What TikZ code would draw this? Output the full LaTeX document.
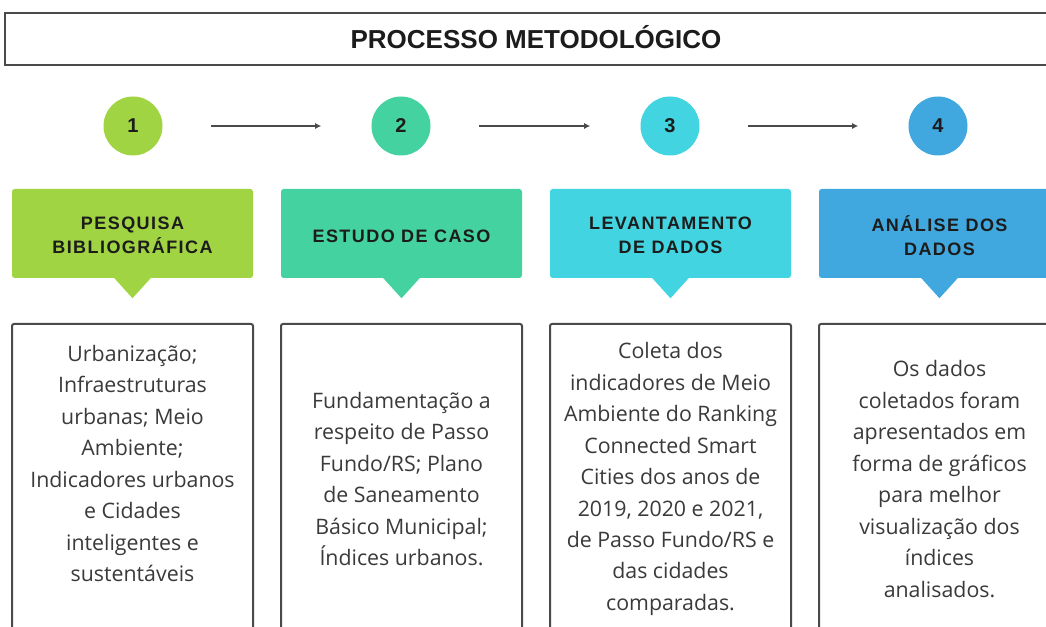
\documentclass[tikz,border=0pt]{standalone}
\usepackage{fontspec}
\setmainfont{Open Sans}
\newfontfamily\titlefont{Liberation Sans}
\newfontfamily\banfont[LetterSpace=8]{Liberation Sans}
\usetikzlibrary{shadows,arrows.meta}
\definecolor{cA}{HTML}{A0D443}
\definecolor{cB}{HTML}{44D2A1}
\definecolor{cC}{HTML}{42D4E0}
\definecolor{cD}{HTML}{40A8DF}
\definecolor{edge}{HTML}{4A4A4A}
\definecolor{bodytext}{HTML}{3A3A3A}
\definecolor{headtext}{HTML}{1C1C1C}
\begin{document}
\begin{tikzpicture}[x=0.75pt,y=-0.75pt,
  titlebox/.style={draw=edge,line width=1.5pt,fill=white,minimum width=796.5pt,minimum height=39pt,
    text height=14pt,text depth=0pt,
    drop shadow={shadow xshift=0.6pt,shadow yshift=-0.8pt,opacity=0.3},
    font=\titlefont\bfseries\fontsize{19.5}{22}\selectfont,text=headtext},
  num/.style={circle,minimum size=44.25pt,inner sep=0pt,font=\titlefont\bfseries\fontsize{15}{17}\selectfont,text=headtext},
  arr/.style={draw=edge,line width=1.2pt,-{Latex[length=4.5pt,width=4.5pt]},shorten <=36pt,shorten >=37.5pt},
  banner/.style={rounded corners=2pt,minimum width=180.75pt,minimum height=66.75pt,inner sep=0pt,align=center,
    font=\banfont\bfseries\fontsize{13.5}{18}\selectfont,text=headtext},
  bantext/.style={align=center,inner sep=0pt,font=\banfont\bfseries\fontsize{13.5}{18}\selectfont,text=headtext},
  tbox/.style={anchor=north,draw=edge,line width=1.5pt,fill=white,rounded corners=1.5pt,
    drop shadow={shadow xshift=0.6pt,shadow yshift=-0.8pt,opacity=0.3},
    minimum width=180.75pt,minimum height=232.5pt,inner sep=0pt,align=center,
    font=\fontsize{16}{23.6}\selectfont,text=bodytext}
]
\clip (0,0) rectangle (1046,627);
\fill[white] (0,0) rectangle (1046,627);
\node[titlebox] (title) at (536,39) {PROCESSO METODOLÓGICO};

\node[num,fill=cA] (n1) at (133,126) {1};
\node[num,fill=cB] (n2) at (401,126) {2};
\node[num,fill=cC] (n3) at (670,126) {3};
\node[num,fill=cD] (n4) at (938,126) {4};
\draw[arr] (n1) -- (n2);
\draw[arr] (n2) -- (n3);
\draw[arr] (n3) -- (n4);

\node[banner,fill=cA] (b1) at (132.5,233.5) {};
\node[banner,fill=cB] (b2) at (401.5,233.5) {};
\node[banner,fill=cC] (b3) at (670.5,233.5) {};
\node[banner,fill=cD] (b4) at (939.5,233.5) {};
\node[bantext] (l1) at (132.5,235.5) {PESQUISA\\BIBLIOGRÁFICA};
\node[bantext] (l2) at (401.5,236) {ESTUDO DE CASO};
\node[bantext] (l3) at (670.5,235.5) {LEVANTAMENTO\\DE DADOS};
\node[bantext] (l4) at (939.5,235.5) {ANÁLISE DOS\\DADOS};
\fill[cA] ([xshift=-14pt,yshift=0.5pt]b1.south) -- ([xshift=14pt,yshift=0.5pt]b1.south) -- ([yshift=-15pt]b1.south) -- cycle;
\fill[cB] ([xshift=-14pt,yshift=0.5pt]b2.south) -- ([xshift=14pt,yshift=0.5pt]b2.south) -- ([yshift=-15pt]b2.south) -- cycle;
\fill[cC] ([xshift=-14pt,yshift=0.5pt]b3.south) -- ([xshift=14pt,yshift=0.5pt]b3.south) -- ([yshift=-15pt]b3.south) -- cycle;
\fill[cD] ([xshift=-14pt,yshift=0.5pt]b4.south) -- ([xshift=14pt,yshift=0.5pt]b4.south) -- ([yshift=-15pt]b4.south) -- cycle;

\node[tbox] (t1) at (132.5,323) {Urbanização;\\Infraestruturas\\urbanas; Meio\\Ambiente;\\Indicadores urbanos\\e Cidades\\inteligentes e\\sustentáveis\\\mbox{}};
\node[tbox] (t2) at (401.5,323) {Fundamentação a\\respeito de Passo\\Fundo/RS; Plano\\de Saneamento\\Básico Municipal;\\Índices urbanos.};
\node[tbox] (t3) at (670.5,323) {Coleta dos\\indicadores de Meio\\Ambiente do Ranking\\Connected Smart\\Cities dos anos de\\2019, 2020 e 2021,\\de Passo Fundo/RS e\\das cidades\\comparadas.};
\node[tbox] (t4) at (939.5,323) {Os dados\\coletados foram\\apresentados em\\forma de gráficos\\para melhor\\visualização dos\\índices\\analisados.};
\end{tikzpicture}
\end{document}
